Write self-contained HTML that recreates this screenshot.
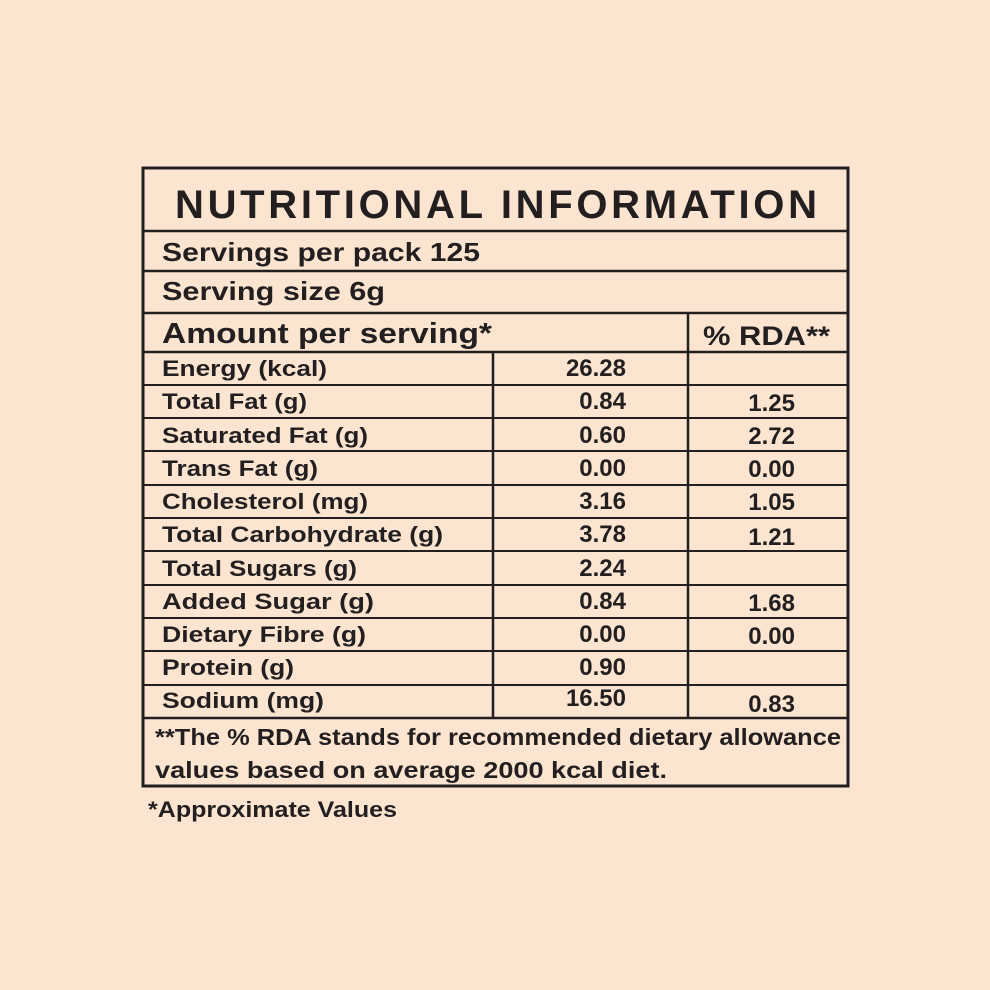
<!DOCTYPE html>
<html><head><meta charset="utf-8"><style>
html,body{margin:0;padding:0;background:#fbe5d0;}
svg{display:block}
text{font-family:"Liberation Sans",sans-serif;font-weight:bold;fill:#231f20}
</style></head><body>
<svg width="990" height="990" viewBox="0 0 990 990" xmlns="http://www.w3.org/2000/svg">
<rect width="990" height="990" fill="#fbe5d0"/>
<g stroke="#231f20" fill="none">
<rect x="143" y="168" width="705" height="618" stroke-width="3"/>
<line x1="143" y1="231" x2="848" y2="231" stroke-width="2.5"/>
<line x1="143" y1="271" x2="848" y2="271" stroke-width="2.5"/>
<line x1="143" y1="313" x2="848" y2="313" stroke-width="2.5"/>
<line x1="143" y1="352" x2="848" y2="352" stroke-width="2.5"/>
<line x1="493" y1="352" x2="493" y2="718" stroke-width="2.5"/>
<line x1="688" y1="313" x2="688" y2="718" stroke-width="2.5"/>
<line x1="143" y1="718" x2="848" y2="718" stroke-width="2.5"/>
<g stroke-width="2">
<line x1="143" y1="385" x2="848" y2="385"/>
<line x1="143" y1="418" x2="848" y2="418"/>
<line x1="143" y1="451" x2="848" y2="451"/>
<line x1="143" y1="485" x2="848" y2="485"/>
<line x1="143" y1="518" x2="848" y2="518"/>
<line x1="143" y1="551" x2="848" y2="551"/>
<line x1="143" y1="585" x2="848" y2="585"/>
<line x1="143" y1="618" x2="848" y2="618"/>
<line x1="143" y1="651" x2="848" y2="651"/>
<line x1="143" y1="685" x2="848" y2="685"/>
</g>
</g>
<text x="175" y="218" font-size="40" textLength="642" lengthAdjust="spacing">NUTRITIONAL INFORMATION</text>
<text x="162" y="261" font-size="26" textLength="318" lengthAdjust="spacingAndGlyphs">Servings per pack 125</text>
<text x="162" y="300" font-size="26" textLength="223" lengthAdjust="spacingAndGlyphs">Serving size 6g</text>
<text x="162" y="343" font-size="29" textLength="330" lengthAdjust="spacingAndGlyphs">Amount per serving*</text>
<text x="703" y="345" font-size="27" textLength="127" lengthAdjust="spacingAndGlyphs">% RDA**</text>
<g font-size="22">
<text x="162" y="376" textLength="165" lengthAdjust="spacingAndGlyphs">Energy (kcal)</text>
<text x="162" y="409" textLength="145" lengthAdjust="spacingAndGlyphs">Total Fat (g)</text>
<text x="162" y="443" textLength="206" lengthAdjust="spacingAndGlyphs">Saturated Fat (g)</text>
<text x="162" y="476" textLength="156" lengthAdjust="spacingAndGlyphs">Trans Fat (g)</text>
<text x="162" y="509" textLength="206" lengthAdjust="spacingAndGlyphs">Cholesterol (mg)</text>
<text x="162" y="542" textLength="281" lengthAdjust="spacingAndGlyphs">Total Carbohydrate (g)</text>
<text x="162" y="576" textLength="195" lengthAdjust="spacingAndGlyphs">Total Sugars (g)</text>
<text x="162" y="609" textLength="212" lengthAdjust="spacingAndGlyphs">Added  Sugar (g)</text>
<text x="162" y="642" textLength="204" lengthAdjust="spacingAndGlyphs">Dietary Fibre (g)</text>
<text x="162" y="675" textLength="132" lengthAdjust="spacingAndGlyphs">Protein (g)</text>
<text x="162" y="708" textLength="162" lengthAdjust="spacingAndGlyphs">Sodium (mg)</text>
</g>
<g font-size="24" text-anchor="end">
<text x="626" y="376">26.28</text>
<text x="626" y="409">0.84</text>
<text x="626" y="443">0.60</text>
<text x="626" y="476">0.00</text>
<text x="626" y="509">3.16</text>
<text x="626" y="542">3.78</text>
<text x="626" y="576">2.24</text>
<text x="626" y="609">0.84</text>
<text x="626" y="642">0.00</text>
<text x="626" y="675">0.90</text>
<text x="626" y="706">16.50</text>
<text x="795" y="411">1.25</text>
<text x="795" y="444">2.72</text>
<text x="795" y="477">0.00</text>
<text x="795" y="510">1.05</text>
<text x="795" y="545">1.21</text>
<text x="795" y="611">1.68</text>
<text x="795" y="644">0.00</text>
<text x="795" y="712">0.83</text>
</g>
<text x="155" y="745" font-size="23" textLength="686" lengthAdjust="spacingAndGlyphs">**The % RDA stands for recommended dietary allowance</text>
<text x="155" y="778" font-size="23" textLength="512" lengthAdjust="spacingAndGlyphs">values based on average 2000 kcal diet.</text>
<text x="148" y="817" font-size="22" textLength="249" lengthAdjust="spacingAndGlyphs">*Approximate Values</text>
</svg>
</body></html>
